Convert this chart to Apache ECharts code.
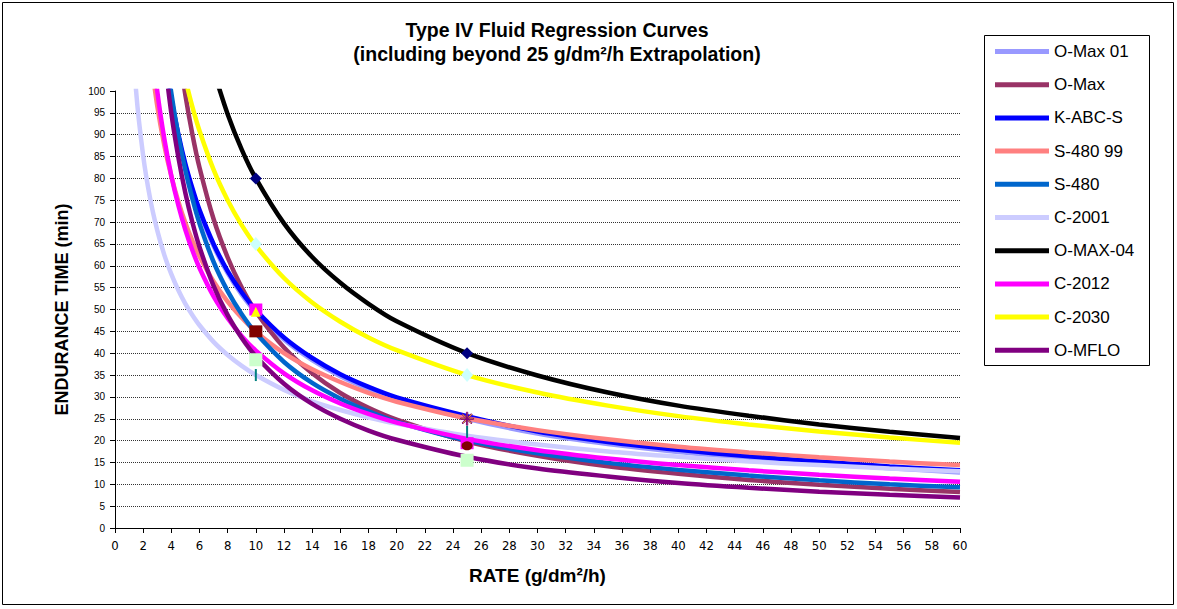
<!DOCTYPE html>
<html><head><meta charset="utf-8">
<script src="https://cdn.jsdelivr.net/npm/echarts@6/dist/echarts.min.js"></script>
<style>html,body{margin:0;padding:0;background:#fff}#c{width:1177px;height:609px}</style>
</head><body><div id="c"></div>
<script>
// Rates (g/dm²/h) at which curve values were read
const rates = [1, 1.5, 2, 2.5, 3, 3.5, 4, 4.5, 5, 5.5, 6, 7, 8, 9, 10, 12, 14, 16, 18, 20, 25, 30, 35, 40, 45, 50, 55, 60];
const seriesNames = ['O-Max 01', 'O-Max', 'K-ABC-S', 'S-480 99', 'S-480', 'C-2001', 'O-MAX-04', 'C-2012', 'C-2030', 'O-MFLO'];
const seriesColors = ['#9999FF', '#993366', '#0000FF', '#FF8080', '#0066CC', '#CCCCFF', '#000000', '#FF00FF', '#FFFF00', '#800080'];
// Endurance time (min)
const oMax01  = [null, null, null, null, null, 108, 97.8, 89.6, 82.8, 77.2, 72.3, 64.5, 58.3, 53.4, 49.4, 43.1, 38.4, 34.7, 31.8, 29.4, 25.0, 21.6, 19.2, 17.4, 16.0, 14.8, 13.7, 12.7];
const oMax    = [null, null, null, null, null, null, null, 110, 99.0, 90.0, 82.5, 70.7, 61.9, 55.0, 49.5, 41.3, 35.4, 30.9, 27.5, 24.8, 19.8, 16.5, 14.1, 12.4, 11.0, 9.9, 9.0, 8.25];
const kAbcS   = [null, null, null, null, null, 108.5, 98.3, 90.1, 83.3, 77.7, 72.8, 65.0, 58.8, 53.9, 49.9, 43.6, 38.9, 35.2, 32.3, 29.9, 25.6, 22.1, 19.7, 17.9, 16.4, 15.2, 14.1, 13.2];
const s480_99 = [null, null, null, 108.4, 96.6, 87.6, 80.5, 74.7, 69.8, 65.7, 62.2, 56.4, 51.8, 48.1, 44.9, 40.0, 36.3, 33.4, 30.9, 28.9, 25.1, 22.4, 20.3, 18.6, 17.3, 16.2, 15.2, 14.4];
const s480    = [null, null, null, null, null, 111.8, 99.5, 89.7, 81.8, 75.3, 69.7, 60.9, 54.2, 48.9, 44.6, 38.0, 33.2, 29.6, 26.7, 24.3, 20.0, 17.1, 14.9, 13.3, 12.0, 10.9, 10.0, 9.3];
const c2001   = [125, 99.9, 85.2, 75.3, 68.1, 62.5, 58.1, 54.4, 51.3, 48.7, 46.4, 42.6, 39.6, 37.1, 35.0, 31.6, 29.0, 27.0, 25.3, 23.9, 21.1, 19.1, 17.5, 16.3, 15.2, 14.4, 13.6, 13.0];
const oMax04  = [null, null, null, null, null, null, null, null, null, null, null, 104.7, 94.7, 86.6, 80, 69.7, 62.0, 56.1, 51.3, 47.3, 40, 34.9, 31.0, 28.0, 25.7, 23.7, 22.0, 20.6];
const c2012   = [null, null, null, 114.6, 100, 89.1, 80.6, 73.8, 68.2, 63.5, 59.5, 53.0, 48.0, 43.9, 40.6, 35.4, 31.5, 28.5, 26.1, 24.1, 20.4, 17.8, 15.9, 14.4, 13.2, 12.2, 11.3, 10.6];
const c2030   = [null, null, null, null, null, null, null, 110.2, 102.7, 96.3, 90.9, 82.0, 75.0, 69.3, 64.6, 57.2, 51.6, 47.2, 43.6, 40.7, 35.0, 31.0, 28.0, 25.6, 23.7, 22.1, 20.7, 19.5];
const oMflo   = [null, null, null, null, null, 108.0, 94.9, 84.8, 76.6, 69.9, 64.3, 55.4, 48.7, 43.5, 39.3, 33.0, 28.4, 25.0, 22.3, 20.2, 16.3, 13.6, 11.8, 10.3, 9.2, 8.3, 7.6, 7.0];
const curveValues = [oMax01, oMax, kAbcS, s480_99, s480, c2001, oMax04, c2012, c2030, oMflo];
// Measured data points (rate, time)
const navyDiamond   = [[10, 80], [25, 40]];
const cyanDiamond   = [[10, 65], [25, 35]];
const magentaSquare = [[10, 50], [25, 19.4]];
const yellowTriangle = [[10, 49.5]];
const starPoint     = [[25, 25]];
const maroonSquare  = [[10, 45]];
const maroonCircle  = [[25, 18.8]];
const greenSquare   = [[10, 38.5], [25, 15.5]];
const tealDash      = [[10, 35], [25, 22]];

const FONT = "'Liberation Sans', Arial, sans-serif";
function pts(ys) { return rates.map((x, i) => [x, ys[i]]).filter(p => p[1] !== null); }

const lineSeries = seriesNames.map((n, i) => ({
  name: n, type: 'line', data: pts(curveValues[i]), smooth: 0.3,
  showSymbol: false, symbol: 'none', clip: true, z: 3,
  lineStyle: { color: seriesColors[i], width: 4.5 }, itemStyle: { color: seriesColors[i] },
  emphasis: { disabled: true }
}));

function marker(name, data, symbol, size, color, border) {
  return { name: name, type: 'scatter', data: data, symbol: symbol, symbolSize: size, z: 4,
    itemStyle: { color: color, borderColor: border || color, borderWidth: border ? 1 : 0, opacity: 1 },
    emphasis: { disabled: true } };
}
const starPath = 'path://M-1,-10L1,-10L1,10L-1,10Z M-10,-1L10,-1L10,1L-10,1Z M-7.8,-6.4L-6.4,-7.8L7.8,6.4L6.4,7.8Z M6.4,-7.8L7.8,-6.4L-6.4,7.8L-7.8,6.4Z';
const markerSeries = [
  marker('pt-navy', navyDiamond, 'diamond', [12, 12], '#000080'),
  marker('pt-cyan', cyanDiamond, 'diamond', [12, 14], '#CCFFFF'),
  marker('pt-magenta', magentaSquare, 'rect', [13, 12], '#FF00FF'),
  marker('pt-yellow', yellowTriangle, 'triangle', [10, 10], '#FFFF00'),
  marker('pt-star', starPoint, starPath, [13, 13], '#FFFF00', '#800080'),
  marker('pt-maroon-sq', maroonSquare, 'rect', [13, 12], '#800000'),
  marker('pt-maroon-c', maroonCircle, 'circle', [11, 9], '#800000'),
  marker('pt-green', greenSquare, 'rect', [13, 13], '#CCFFCC'),
  marker('pt-teal', tealDash, 'rect', [2, 12], '#008080')
];

const chart = echarts.init(document.getElementById('c'), null, { renderer: 'svg' });
chart.setOption({
  animation: false,
  backgroundColor: '#fff',
  textStyle: { fontFamily: FONT },
  title: {
    text: 'Type IV Fluid Regression Curves\n(including beyond 25 g/dm²/h Extrapolation)',
    left: 552, top: 13, textAlign: 'center',
    textStyle: { fontFamily: FONT, fontSize: 19.5, fontWeight: 'bold', color: '#000', lineHeight: 24 }
  },
  legend: {
    data: seriesNames, orient: 'vertical', left: 990, top: 38,
    icon: 'rect', itemWidth: 54, itemHeight: 5, itemGap: 16.2,
    textStyle: { fontFamily: FONT, fontSize: 17, color: '#000', lineHeight: 16 },
    selectedMode: false
  },
  grid: { left: 115, top: 91, width: 845, height: 437, containLabel: false },
  xAxis: {
    type: 'value', min: 0, max: 60, interval: 2,
    name: 'RATE (g/dm²/h)', nameLocation: 'middle', nameGap: 38,
    nameTextStyle: { fontFamily: FONT, fontSize: 19, fontWeight: 'bold', color: '#000' },
    axisLine: { show: true, lineStyle: { color: '#000', width: 1 } },
    axisTick: { show: true, length: 5, lineStyle: { color: '#000' } },
    axisLabel: { fontFamily: "'Liberation Sans Narrow', 'DejaVu Sans Condensed', 'Liberation Sans', sans-serif", fontSize: 13, color: '#000', margin: 11 },
    splitLine: { show: false }
  },
  yAxis: {
    type: 'value', min: 0, max: 100, interval: 5,
    name: 'ENDURANCE TIME (min)', nameLocation: 'middle', nameGap: 44, nameRotate: 90,
    nameTextStyle: { fontFamily: FONT, fontSize: 18, fontWeight: 'bold', color: '#000' },
    axisLine: { show: true, lineStyle: { color: '#000', width: 1 } },
    axisTick: { show: true, length: 5, lineStyle: { color: '#000' } },
    axisLabel: { fontFamily: FONT, fontSize: 10, color: '#000', margin: 10 },
    splitLine: { show: true, showMinLine: false, showMaxLine: false, lineStyle: { color: '#333', type: [1, 1], width: 1 } }
  },
  graphic: [
    { type: 'rect', shape: { x: 2.5, y: 2.5, width: 1171, height: 602 }, style: { fill: 'none', stroke: '#000', lineWidth: 1 }, silent: true, z: 0 },
    { type: 'rect', shape: { x: 984.5, y: 35.5, width: 165, height: 330 }, style: { fill: 'none', stroke: '#000', lineWidth: 1 }, silent: true, z: 0 }
  ],
  series: markerSeries.concat(lineSeries)
});
</script>
</body></html>
